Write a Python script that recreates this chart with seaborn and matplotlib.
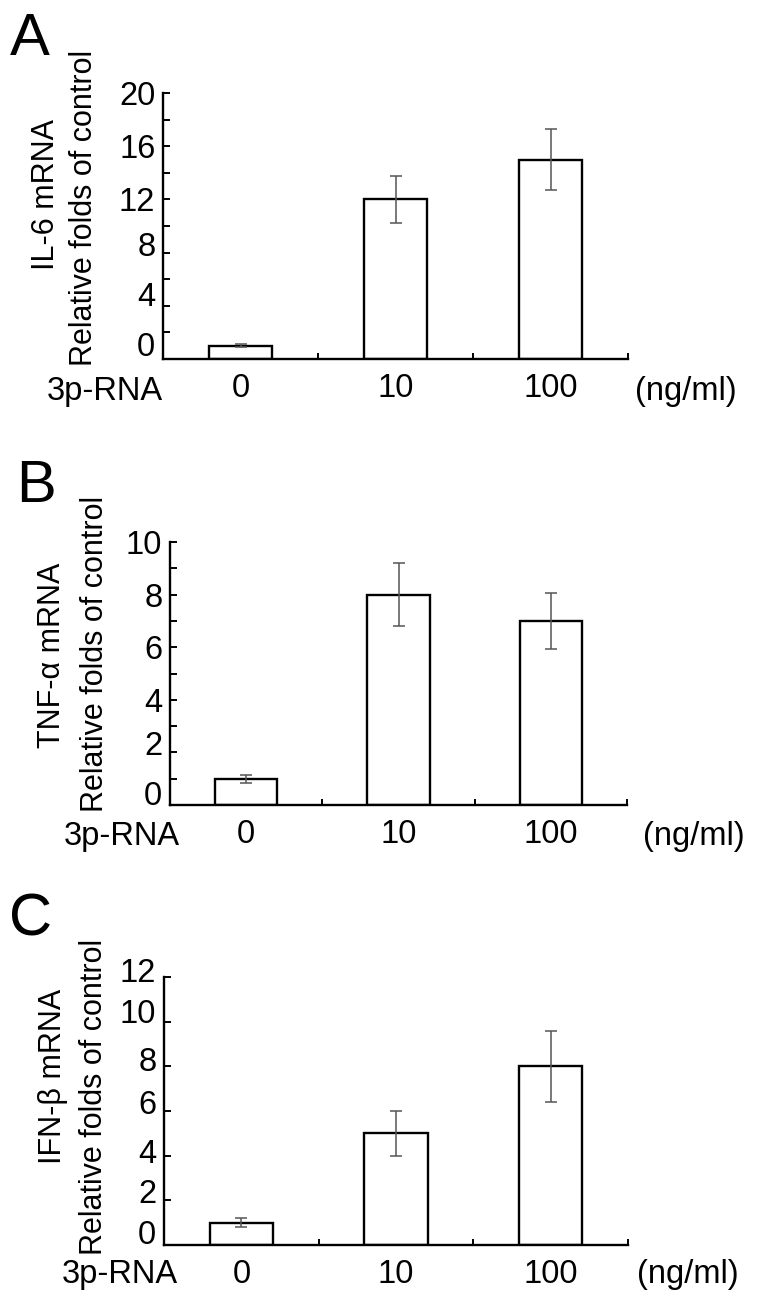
import matplotlib
matplotlib.use("Agg")
import matplotlib.pyplot as plt
import matplotlib.transforms as mtransforms
import seaborn as sns
import pandas as pd

# ---------------- data ----------------
doses = ["0", "10", "100"]

il6_mean = [1.0, 12.0, 15.0]
il6_err = [0.12, 1.75, 2.3]

tnf_mean = [1.0, 8.0, 7.0]
tnf_err = [0.15, 1.2, 1.05]

ifn_mean = [1.0, 5.0, 8.0]
ifn_err = [0.2, 1.0, 1.6]

il6_yticks = [0, 4, 8, 12, 16, 20]
tnf_yticks = [0, 2, 4, 6, 8, 10]
ifn_yticks = [0, 2, 4, 6, 8, 10, 12]

panel_letters = ["A", "B", "C"]
gene_labels = ["IL-6 mRNA", "TNF-\u03b1 mRNA", "IFN-\u03b2 mRNA"]
common_ylabel = "Relative folds of control"
xlabel_left = "3p-RNA"
xlabel_right = "(ng/ml)"

# ---------------- style ----------------
sns.set_theme(style="ticks")
plt.rcParams["font.family"] = ["Liberation Sans", "DejaVu Sans"]
plt.rcParams["text.color"] = "black"
plt.rcParams["axes.labelcolor"] = "black"
plt.rcParams["xtick.color"] = "black"
plt.rcParams["ytick.color"] = "black"

W, H = 759, 1301
fig = plt.figure(figsize=(W / 100, H / 100), dpi=100)
fig.patch.set_facecolor("white")

FS = 23.5      # horizontal text
FSR = 22       # rotated text
LW = 1.7


def px_rect(left, right, top, bottom):
    return [left / W, 1 - bottom / H, (right - left) / W, (bottom - top) / H]


panels = [
    dict(rect=px_rect(163, 628, 93, 359), mean=il6_mean, err=il6_err, yticks=il6_yticks,
         ymax=20, minor=[2, 6, 10, 14, 18], lab_off=[15, 12, 9, 0, 0, 0],
         letter_xy=(10, 55), gene_xy=(46, 195), rel_xy=(84, 208), xl_y=400, xl_left=163, unit_x=635),
    dict(rect=px_rect(170, 627, 542, 805), mean=tnf_mean, err=tnf_err, yticks=tnf_yticks,
         ymax=10, minor=[1, 3, 5, 7, 9], lab_off=[12, 9, 0, 0, 0, 0],
         letter_xy=(16, 502), gene_xy=(52, 655), rel_xy=(95, 654), xl_y=845, xl_left=180, unit_x=643),
    dict(rect=px_rect(164, 628, 977, 1245), mean=ifn_mean, err=ifn_err, yticks=ifn_yticks,
         ymax=12, minor=[], lab_off=[13, 9, 5, 9, 7, 11, 7],
         letter_xy=(9, 936), gene_xy=(53, 1076), rel_xy=(94, 1097), xl_y=1283, xl_left=178, unit_x=637),
]

for i, p in enumerate(panels):
    ax = fig.add_axes(p["rect"])
    df = pd.DataFrame({"dose": doses, "value": p["mean"]})
    sns.barplot(data=df, x="dose", y="value", order=doses, ax=ax,
                color="white", edgecolor="black", linewidth=LW, width=0.41,
                errorbar=None, saturation=1)
    ax.errorbar(range(len(doses)), p["mean"], yerr=p["err"], fmt="none",
                ecolor="#555555", elinewidth=1.1, capsize=4.5, capthick=1.1, zorder=5)

    ax.set_xlim(-0.5, 2.5)
    ax.set_ylim(0, p["ymax"])
    ax.set_xlabel("")
    ax.set_ylabel("")
    ax.set_facecolor("white")
    for s in ["top", "right"]:
        ax.spines[s].set_visible(False)
    for s in ["left", "bottom"]:
        ax.spines[s].set_linewidth(LW)
        ax.spines[s].set_color("black")

    # y ticks
    ax.set_yticks(p["yticks"])
    ax.set_yticklabels([str(t) for t in p["yticks"]])
    ax.set_yticks(p["minor"], minor=True)
    ax.tick_params(axis="y", which="both", direction="in", length=5, width=1.4,
                   colors="black", labelsize=FS, pad=5.5)

    # x ticks: category labels without marks, separator marks between groups
    ax.set_xticks(range(len(doses)))
    ax.set_xticklabels(doses)
    ax.set_xticks([0.5, 1.5, 2.5], minor=True)
    ax.tick_params(axis="x", which="major", length=0, labelsize=FS, pad=10, colors="black")
    ax.tick_params(axis="x", which="minor", direction="in", length=4, width=1.4, colors="black")

    # nudge y tick labels as in the original figure
    for lab, off in zip(ax.get_yticklabels(), p["lab_off"]):
        lab.set_transform(lab.get_transform() +
                          mtransforms.ScaledTranslation(0, off / 100, fig.dpi_scale_trans))

    # panel letter
    lx, ly = p["letter_xy"]
    fig.text(lx / W, 1 - ly / H, panel_letters[i], fontsize=43, ha="left", va="baseline",
             color="black")
    # y labels
    gx, gy = p["gene_xy"]
    fig.text(gx / W, 1 - gy / H, gene_labels[i], fontsize=FSR, rotation=90,
             ha="center", va="center", color="black")
    rx, ry = p["rel_xy"]
    fig.text(rx / W, 1 - ry / H, common_ylabel, fontsize=FSR, rotation=90,
             ha="center", va="center", color="black")
    # x axis side labels
    fig.text(p["xl_left"] / W, 1 - p["xl_y"] / H, xlabel_left, fontsize=FS,
             ha="right", va="baseline", color="black")
    fig.text(p["unit_x"] / W, 1 - p["xl_y"] / H, xlabel_right, fontsize=FS,
             ha="left", va="baseline", color="black")

fig.savefig("out.png", dpi=100, facecolor="white")
